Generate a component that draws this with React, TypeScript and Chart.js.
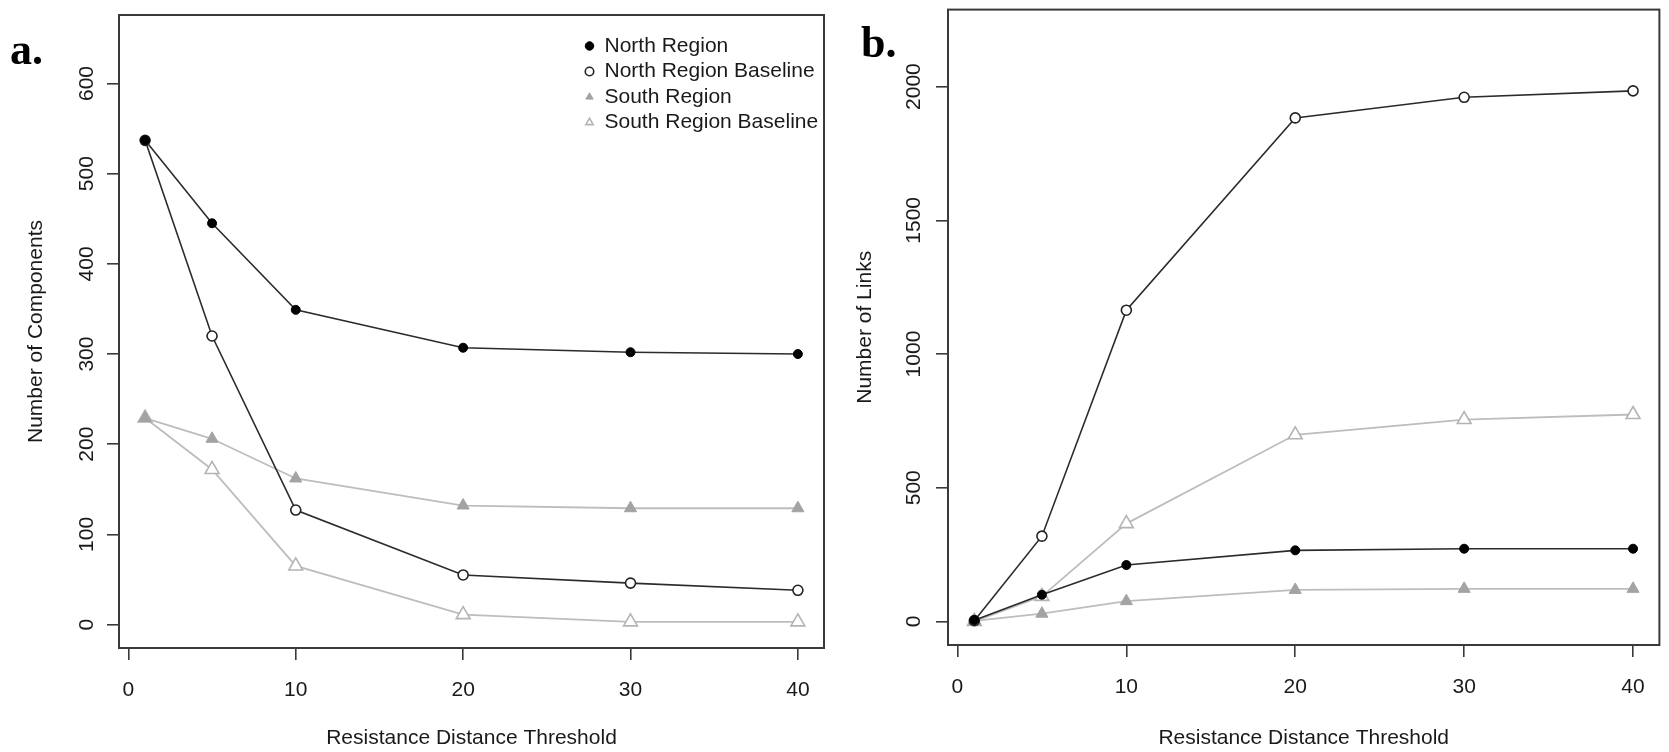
import React, { useEffect, useRef } from "react";
import { Chart, registerables } from "chart.js";

Chart.register(...registerables);

// ---------- data ----------
const THRESHOLDS = [1, 5, 10, 20, 30, 40];
const X_TICKS = [0, 10, 20, 30, 40];
const SERIES_NAMES = [
  "North Region",
  "North Region Baseline",
  "South Region",
  "South Region Baseline",
];

// Panel a: Number of Components
const A_NORTH = [537, 445, 349, 307, 302, 300];
const A_NORTH_BASE = [537, 320, 127, 55, 46, 38];
const A_SOUTH = [229, 206, 162, 132, 129, 129];
const A_SOUTH_BASE = [229, 172, 65, 11, 3, 3];
const A_Y_TICKS = [0, 100, 200, 300, 400, 500, 600];

// Panel b: Number of Links
const B_NORTH = [5, 100, 211, 266, 272, 272];
const B_NORTH_BASE = [3, 319, 1164, 1883, 1960, 1984];
const B_SOUTH = [2, 29, 76, 118, 122, 122];
const B_SOUTH_BASE = [0, 94, 366, 698, 755, 774];
const B_Y_TICKS = [0, 500, 1000, 1500, 2000];

// ---------- styles ----------
const FONT_FAMILY = '"Liberation Sans", Arial, Helvetica, sans-serif';
const TEXT_COLOR = "#1a1a1a";
const AXIS_COLOR = "#3a3a3a";
const DARK_LINE = "#2b2b2b";
const LIGHT_LINE = "#bdbdbd";
const FILL_GREY = "#a3a3a3";
const OPEN_GREY = "#b4b4b4";

const tickFont = { family: FONT_FAMILY, size: 21 };

function pts(values: number[]) {
  return THRESHOLDS.map((x, i) => ({ x, y: values[i] }));
}

function datasets(n: number[], nb: number[], s: number[], sb: number[]) {
  return [
    {
      label: SERIES_NAMES[0],
      data: pts(n),
      borderColor: DARK_LINE,
      borderWidth: 1.6,
      pointStyle: "circle",
      pointRadius: 4.5,
      pointBackgroundColor: "#000",
      pointBorderColor: "#000",
      pointBorderWidth: 1,
    },
    {
      label: SERIES_NAMES[1],
      data: pts(nb),
      borderColor: DARK_LINE,
      borderWidth: 1.6,
      pointStyle: "circle",
      pointRadius: 5,
      pointBackgroundColor: "#fff",
      pointBorderColor: "#222",
      pointBorderWidth: 1.6,
    },
    {
      label: SERIES_NAMES[2],
      data: pts(s),
      borderColor: LIGHT_LINE,
      borderWidth: 1.8,
      pointStyle: "triangle",
      pointRadius: 7,
      pointBackgroundColor: FILL_GREY,
      pointBorderColor: FILL_GREY,
      pointBorderWidth: 1,
    },
    {
      label: SERIES_NAMES[3],
      data: pts(sb),
      borderColor: LIGHT_LINE,
      borderWidth: 1.8,
      pointStyle: "triangle",
      pointRadius: 8,
      pointBackgroundColor: "#fff",
      pointBorderColor: OPEN_GREY,
      pointBorderWidth: 1.6,
    },
  ];
}

const boxPlugin = {
  id: "rbox",
  afterDraw(chart: any) {
    const { ctx, chartArea: a } = chart;
    ctx.save();
    ctx.strokeStyle = AXIS_COLOR;
    ctx.lineWidth = 2;
    ctx.strokeRect(a.left, a.top, a.right - a.left, a.bottom - a.top);
    ctx.restore();
  },
};

const legendPlacer = {
  id: "legendPlacer",
  afterLayout(chart: any) {
    const lg = chart.legend;
    if (!lg) return;
    const a = chart.chartArea;
    const w = lg.width;
    lg.left = a.right - 243.5;
    lg.right = lg.left + w;
    lg.top = a.top + 16;
    lg.bottom = a.bottom;
  },
};

function makeConfig(opts: {
  data: any[];
  yMin: number;
  yMax: number;
  yTicks: number[];
  yTitle: string;
  yAxisWidth: number;
  yTickPad: number;
  yTitlePad: number;
  xAxisHeight: number;
  padding: any;
  legend: boolean;
}) {
  return {
    type: "line",
    data: { datasets: opts.data },
    plugins: opts.legend ? [boxPlugin, legendPlacer] : [boxPlugin],
    options: {
      animation: false,
      responsive: false,
      devicePixelRatio: 1,
      events: [],
      layout: { padding: opts.padding },
      plugins: {
        tooltip: { enabled: false },
        title: { display: false },
        legend: opts.legend
          ? {
              display: true,
              position: "chartArea",
              align: "start",
              labels: {
                usePointStyle: true,
                boxWidth: 9,
                boxHeight: 6,
                padding: 4.5,
                color: TEXT_COLOR,
                font: { family: FONT_FAMILY, size: 21 },
              },
            }
          : { display: false },
      },
      scales: {
        x: {
          type: "linear",
          min: -0.56,
          max: 41.56,
          afterBuildTicks: (s: any) => {
            s.ticks = X_TICKS.map((v) => ({ value: v }));
          },
          afterFit: (s: any) => {
            s.height = opts.xAxisHeight;
            s.paddingLeft = 0;
            s.paddingRight = 0;
          },
          grid: {
            display: true,
            drawOnChartArea: false,
            drawTicks: true,
            tickLength: 12,
            color: AXIS_COLOR,
            lineWidth: 1.6,
          },
          border: { display: false },
          ticks: {
            autoSkip: false,
            maxRotation: 0,
            padding: 18,
            color: TEXT_COLOR,
            font: tickFont,
            callback: (v: any) => String(v),
          },
          title: {
            display: true,
            text: "Resistance Distance Threshold",
            color: TEXT_COLOR,
            font: tickFont,
            padding: { top: 0, bottom: 1.5 },
          },
        },
        y: {
          type: "linear",
          min: opts.yMin,
          max: opts.yMax,
          afterBuildTicks: (s: any) => {
            s.ticks = opts.yTicks.map((v) => ({ value: v }));
          },
          afterFit: (s: any) => {
            s.width = opts.yAxisWidth;
            s.paddingTop = 0;
            s.paddingBottom = 0;
          },
          grid: {
            display: true,
            drawOnChartArea: false,
            drawTicks: true,
            tickLength: 12,
            color: AXIS_COLOR,
            lineWidth: 1.6,
          },
          border: { display: false },
          ticks: {
            autoSkip: false,
            minRotation: 90,
            maxRotation: 90,
            crossAlign: "center",
            padding: opts.yTickPad,
            color: TEXT_COLOR,
            font: tickFont,
            callback: (v: any) => String(v),
          },
          title: {
            display: true,
            text: opts.yTitle,
            color: TEXT_COLOR,
            font: tickFont,
            padding: { top: opts.yTitlePad, bottom: 0 },
          },
        },
      },
    },
  };
}

export default function App() {
  const refA = useRef<HTMLCanvasElement | null>(null);
  const refB = useRef<HTMLCanvasElement | null>(null);

  useEffect(() => {
    const cfgA = makeConfig({
      data: datasets(A_NORTH, A_NORTH_BASE, A_SOUTH, A_SOUTH_BASE),
      yMin: -26,
      yMax: 676,
      yTicks: A_Y_TICKS,
      yTitle: "Number of Components",
      yAxisWidth: 119,
      yTickPad: 2,
      yTitlePad: 24,
      xAxisHeight: 104,
      padding: { left: 0, top: 15, right: 16, bottom: 0 },
      legend: true,
    });
    const cfgB = makeConfig({
      data: datasets(B_NORTH, B_NORTH_BASE, B_SOUTH, B_SOUTH_BASE),
      yMin: -88,
      yMax: 2288,
      yTicks: B_Y_TICKS,
      yTitle: "Number of Links",
      yAxisWidth: 108,
      yTickPad: -2,
      yTitlePad: 13,
      xAxisHeight: 107,
      padding: { left: 0, top: 6, right: 1, bottom: 0 },
      legend: false,
    });
    const a = new Chart(refA.current as HTMLCanvasElement, cfgA as any);
    const b = new Chart(refB.current as HTMLCanvasElement, cfgB as any);
    return () => {
      a.destroy();
      b.destroy();
    };
  }, []);

  const panelLabel: React.CSSProperties = {
    position: "absolute",
    fontFamily: '"Liberation Serif", "Times New Roman", serif',
    fontWeight: "bold",
    fontSize: 44,
    lineHeight: "44px",
    color: "#000",
  };

  return (
    <div
      style={{
        position: "absolute",
        left: 0,
        top: 0,
        width: 1669,
        height: 752,
        background: "#fff",
        overflow: "hidden",
      }}
    >
      <canvas
        ref={refA}
        width={840}
        height={752}
        style={{ position: "absolute", left: 0, top: 0, width: 840, height: 752 }}
      />
      <canvas
        ref={refB}
        width={829}
        height={752}
        style={{ position: "absolute", left: 840, top: 0, width: 829, height: 752 }}
      />
      <div style={{ ...panelLabel, left: 10, top: 28 }}>a.</div>
      <div style={{ ...panelLabel, left: 861, top: 21 }}>b.</div>
    </div>
  );
}
